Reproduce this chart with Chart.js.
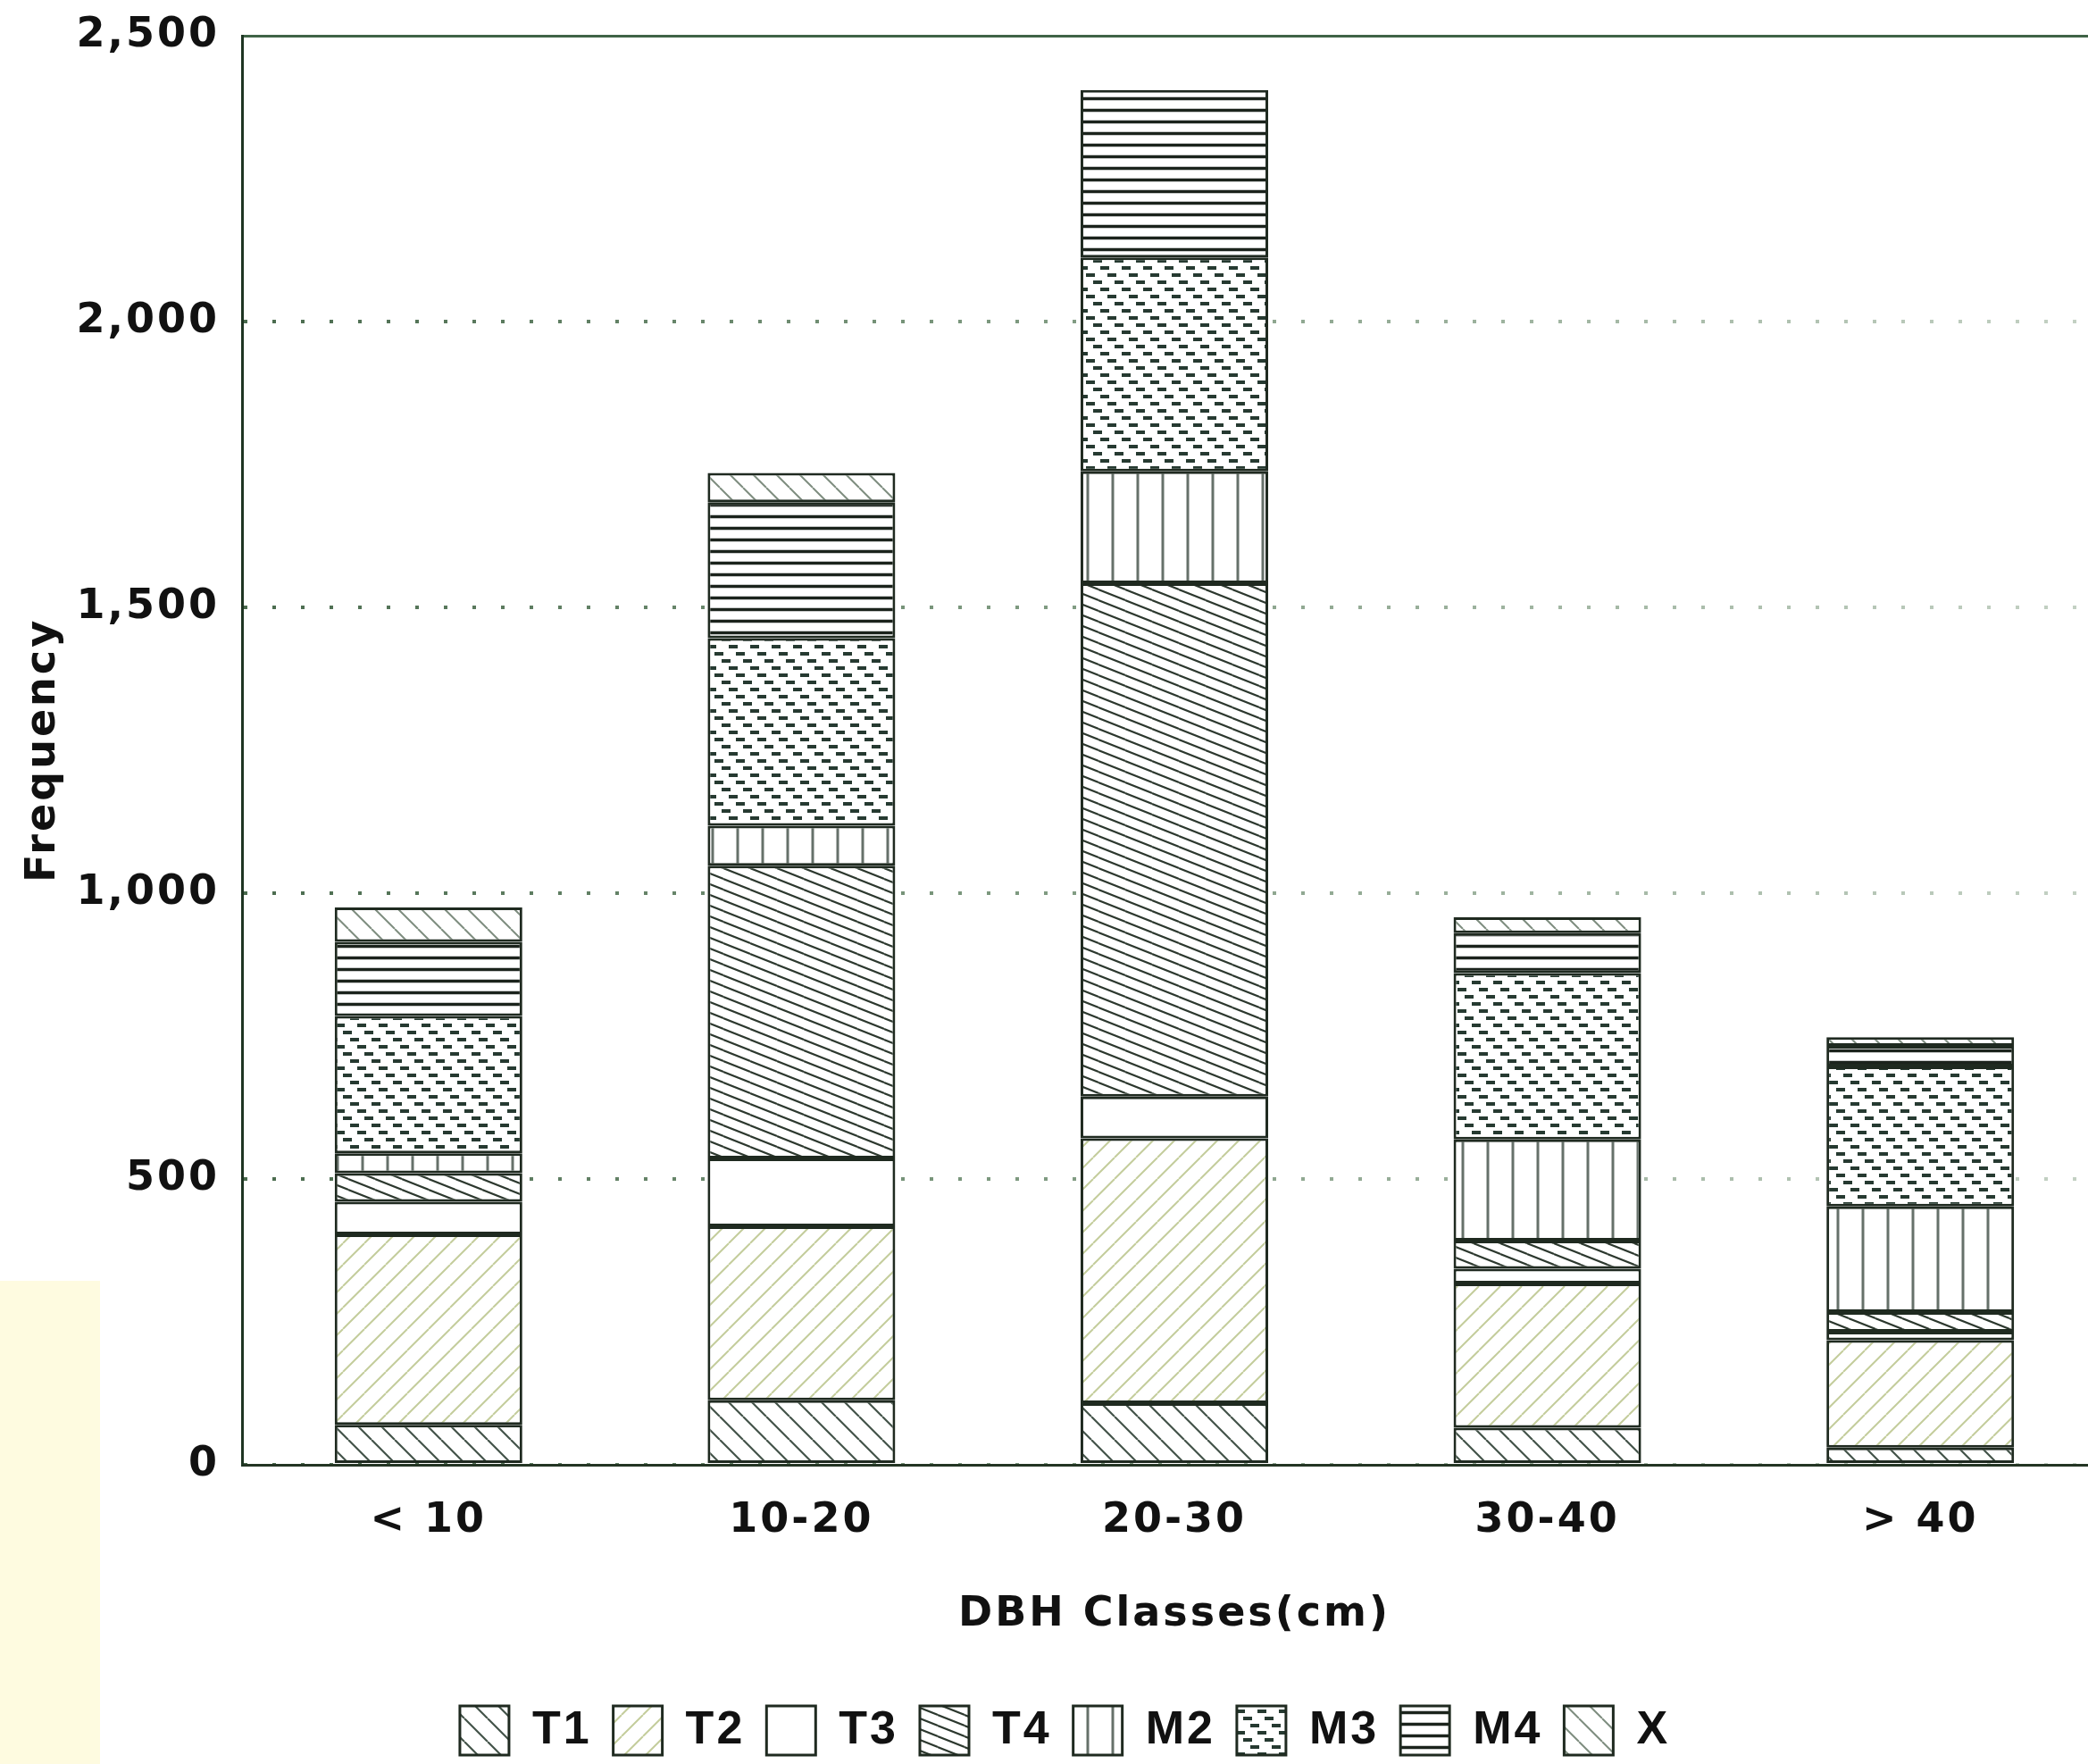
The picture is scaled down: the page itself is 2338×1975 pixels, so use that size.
<!DOCTYPE html>
<html>
<head>
<meta charset="utf-8">
<script src="https://cdn.jsdelivr.net/npm/chart.js@4.4.1/dist/chart.umd.min.js"></script>
<style>
  html, body { margin: 0; padding: 0; background: #ffffff; overflow: hidden; }
  #wrap { position: relative; width: 2338px; height: 1975px; overflow: hidden; }
  #tint { position: absolute; left: 0; top: 1434px; width: 112px; height: 541px; background: #fefbe0; }
  #chart { position: absolute; left: 0; top: 0; }
</style>
</head>
<body>
<div id="wrap">
  <div id="tint"></div>
  <canvas id="chart" width="2359" height="1975"></canvas>
</div>
<script>
// DBH classes on the x axis
const categories = ['< 10', '10-20', '20-30', '30-40', '> 40'];

// Stacked tree counts per class, bottom to top
const T1 = [70, 113, 108, 65, 30];
const T2 = [333, 304, 463, 252, 188];
const T3 = [57, 119, 73, 26, 15];
const T4 = [50, 512, 898, 49, 34];
const M2 = [35, 70, 196, 177, 185];
const M3 = [240, 328, 374, 291, 245];
const M4 = [130, 238, 293, 70, 36];
const X  = [60, 51, 0, 28, 15];

const seriesNames = ['T1', 'T2', 'T3', 'T4', 'M2', 'M3', 'M4', 'X'];
const seriesValues = [T1, T2, T3, T4, M2, M3, M4, X];

// Y axis range and step
const yMin = 0;
const yMax = 2500;
const yStep = 500;

// ---- hatch fills -------------------------------------------------------
function tile(w, h, draw) {
  const c = document.createElement('canvas');
  c.width = w; c.height = h;
  const g = c.getContext('2d');
  g.fillStyle = '#ffffff';
  g.fillRect(0, 0, w, h);
  draw(g, w, h);
  return g.createPattern(c, 'repeat');
}
function diagDown(color, width, s) {
  return tile(s, s, (g) => {
    g.strokeStyle = color; g.lineWidth = width; g.beginPath();
    for (let k = -1; k <= 1; k++) { g.moveTo(k * s, 0); g.lineTo(k * s + s, s); }
    g.stroke();
  });
}
function diagUp(color, width, s) {
  return tile(s, s, (g) => {
    g.strokeStyle = color; g.lineWidth = width; g.beginPath();
    for (let k = -1; k <= 1; k++) { g.moveTo(k * s, s); g.lineTo(k * s + s, 0); }
    g.stroke();
  });
}
const fills = {
  T1: diagDown('#44544a', 2.2, 26),
  T2: diagUp('#c4cd9c', 2, 24),
  T3: '#ffffff',
  T4: tile(30, 12, (g, w, h) => {
    g.strokeStyle = '#2c382e'; g.lineWidth = 2.1; g.beginPath();
    for (let k = -1; k <= 1; k++) { g.moveTo(0, k * h); g.lineTo(w, k * h + h); }
    g.stroke();
  }),
  M2: tile(28, 10, (g, w, h) => {
    g.strokeStyle = '#66716a'; g.lineWidth = 3;
    g.beginPath(); g.moveTo(14, 0); g.lineTo(14, h); g.stroke();
  }),
  M3: tile(24, 24, (g) => {
    g.strokeStyle = '#263a31'; g.lineWidth = 4; g.lineCap = 'butt';
    g.beginPath();
    g.moveTo(0, 4); g.lineTo(10, 4);
    g.moveTo(8, 12); g.lineTo(18, 12);
    g.moveTo(16, 20); g.lineTo(24, 20);
    g.moveTo(0, 20); g.lineTo(2, 20);
    g.stroke();
  }),
  M4: tile(10, 13, (g, w) => {
    g.strokeStyle = '#1b231c'; g.lineWidth = 3.5;
    g.beginPath(); g.moveTo(0, 6.5); g.lineTo(w, 6.5); g.stroke();
  }),
  X: diagDown('#7f8e80', 2, 26)
};

// ---- text spacing for every label drawn on the canvas -----------------
const LETTER_SPACING = '3px';
const spacingPlugin = {
  id: 'spacing',
  beforeUpdate(chart) { chart.ctx.letterSpacing = LETTER_SPACING; },
  beforeLayout(chart) { chart.ctx.letterSpacing = LETTER_SPACING; },
  beforeDraw(chart) { chart.ctx.letterSpacing = LETTER_SPACING; }
};

// dotted grid that fades to the right
function gridColor(ctx) {
  const chart = ctx.chart;
  const area = chart.chartArea;
  if (ctx.tick && ctx.tick.value === yMax) return '#3f6346';
  if (!area) return '#6f8c70';
  const g = chart.ctx.createLinearGradient(area.left, 0, area.right, 0);
  g.addColorStop(0, '#4a6b4e');
  g.addColorStop(0.4, '#7c987e');
  g.addColorStop(1, '#c5d2c5');
  return g;
}

const datasets = seriesNames.map((name, i) => ({
  label: name,
  data: seriesValues[i],
  backgroundColor: fills[name],
  borderColor: '#1f2a20',
  borderWidth: 3,
  borderSkipped: false,
  categoryPercentage: 1,
  barPercentage: 0.503
}));

const axisFont = { family: "'DejaVu Sans', Verdana, sans-serif", size: 46, weight: 'bold' };

new Chart(document.getElementById('chart'), {
  type: 'bar',
  data: { labels: categories, datasets },
  plugins: [spacingPlugin],
  options: {
    responsive: false,
    animation: false,
    devicePixelRatio: 1,
    layout: { padding: { left: 26, right: 0, top: 40, bottom: 0 } },
    plugins: {
      tooltip: { enabled: false },
      legend: {
        position: 'bottom',
        labels: {
          boxWidth: 55,
          boxHeight: 55,
          padding: 24,
          color: '#111111',
          font: { family: "'Liberation Sans', Arial, sans-serif", size: 52, weight: 'bold' }
        }
      }
    },
    scales: {
      x: {
        stacked: true,
        grid: { display: false, drawTicks: false },
        border: { display: true, color: '#243524', width: 3 },
        ticks: { color: '#111111', font: axisFont, padding: 35 },
        title: {
          display: true,
          text: 'DBH Classes(cm)',
          color: '#111111',
          font: axisFont,
          padding: { top: 50, bottom: 50 }
        },
        afterFit(scale) { scale.height = 246; }
      },
      y: {
        stacked: true,
        min: yMin,
        max: yMax,
        ticks: { stepSize: yStep, color: '#111111', font: axisFont, padding: 25 },
        grid: {
          drawTicks: false,
          color: gridColor,
          lineWidth: (ctx) => (ctx.tick && ctx.tick.value === yMax ? 3 : 4)
        },
        border: {
          display: true,
          color: '#1e3522',
          width: 3,
          dash: (ctx) => (ctx.tick && ctx.tick.value === yMax ? [] : [4, 28])
        },
        title: {
          display: true,
          text: 'Frequency',
          color: '#111111',
          font: { family: "'DejaVu Sans', Verdana, sans-serif", size: 46, weight: 'bold', lineHeight: 1 },
          padding: { top: 0, bottom: 0 }
        },
        afterFit(scale) {
          scale.width = 245;
          scale.paddingTop = 0;
          scale.paddingBottom = 0;
        }
      }
    }
  }
});
</script>
</body>
</html>
